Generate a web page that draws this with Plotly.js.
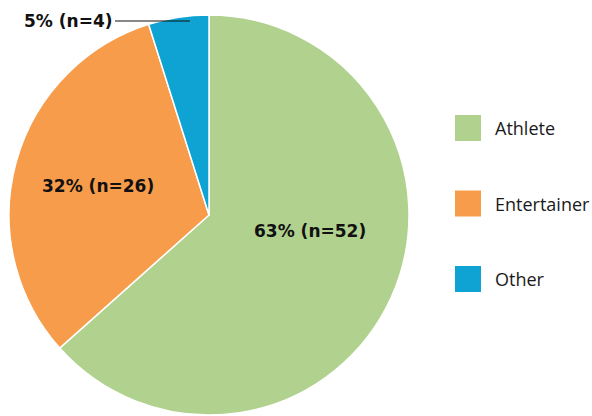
<!DOCTYPE html>
<html><head><meta charset="utf-8">
<script src="https://cdn.plot.ly/plotly-3.0.1.min.js"></script>
<style>html,body{margin:0;padding:0;background:#fff}#chart{width:592px;height:416px}</style>
</head><body><div id="chart"></div>
<script>
const labels = ["Athlete", "Entertainer", "Other"];
const counts = [52, 26, 4];
const colors = ["#b1d28e", "#f79c4b", "#0fa3d3"];

const total = counts.reduce((a, b) => a + b, 0);
const pctText = counts.map(v => Math.round(100 * v / total) + "% (n=" + v + ")");

const labelFont = {family: "DejaVu Sans, sans-serif", size: 17, color: "#111", weight: "bold"};

const trace = {
  type: "pie",
  labels: labels,
  values: counts,
  sort: false,
  direction: "clockwise",
  rotation: 0,
  textinfo: "none",
  marker: {colors: colors, line: {color: "#ffffff", width: 1.5}},
  domain: {x: [9/592, 409/592], y: [1/416, 401/416]},
  hoverinfo: "label+value+percent",
  showlegend: false
};

const shapes = [];
const annotations = [];
labels.forEach((lab, i) => {
  const yc = 1 - (128 + i * 75.5) / 416;
  shapes.push({type: "rect", xref: "paper", yref: "paper",
    x0: 455/592, x1: 481/592, y0: yc - 13/416, y1: yc + 13/416,
    fillcolor: colors[i], line: {width: 0}});
  annotations.push({xref: "paper", yref: "paper", x: 493/592, y: yc,
    xanchor: "left", yanchor: "middle", showarrow: false, text: lab,
    font: {family: "Open Sans, sans-serif", size: 18, color: "#1a1a1a"}});
});
// slice labels
const labelPos = [[310, 231], [98, 186]];
labelPos.forEach((p, i) => {
  annotations.push({xref: "paper", yref: "paper", x: p[0]/592, y: 1 - p[1]/416,
    xanchor: "center", yanchor: "middle", showarrow: false, text: pctText[i], font: labelFont});
});
// outside label for the small slice
annotations.push({xref: "paper", yref: "paper", x: 190/592, y: 1 - 21/416,
  text: pctText[2], showarrow: true, arrowhead: 0, arrowwidth: 1.2, arrowcolor: "#111",
  ax: -75, ay: 0, xanchor: "right", yanchor: "middle", font: labelFont});

const layout = {
  width: 592, height: 416,
  margin: {l: 0, r: 0, t: 0, b: 0},
  paper_bgcolor: "#ffffff",
  showlegend: false,
  shapes: shapes,
  annotations: annotations
};
Plotly.newPlot("chart", [trace], layout, {displayModeBar: false, staticPlot: true});
</script></body></html>
